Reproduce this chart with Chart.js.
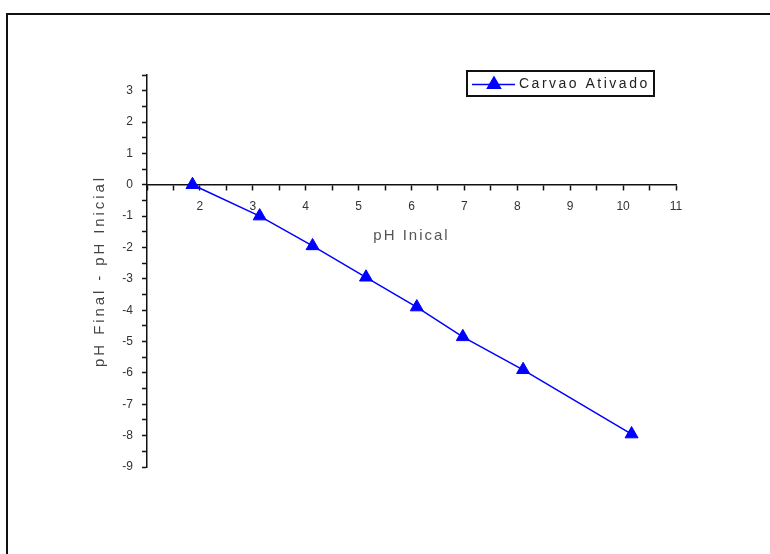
<!DOCTYPE html>
<html>
<head>
<meta charset="utf-8">
<script src="https://cdn.jsdelivr.net/npm/chart.js@4/dist/chart.umd.min.js"></script>
<style>
  html, body { margin: 0; padding: 0; background: #fff; }
  #wrap { position: relative; width: 770px; height: 554px; overflow: hidden; }
  #frame { position: absolute; left: 6px; top: 13px; width: 800px; height: 600px; border-top: 2px solid #111; border-left: 2px solid #111; }
  #chart { position: absolute; left: 0; top: 0; }
</style>
</head>
<body>
<div id="wrap">
  <div id="frame"></div>
  <canvas id="chart" width="770" height="554"></canvas>
</div>
<script>
// pH inicial vs (pH final - pH inicial)
const seriesLabel = 'Carvao Ativado'
const phInicial = [1.86, 3.13, 4.13, 5.14, 6.1, 6.97, 8.11, 10.16]
const phDiff = [0, -1, -1.95, -2.95, -3.9, -4.85, -5.9, -7.95]
const xTitle = 'pH Inical'
const yTitle = 'pH Final - pH Inicial'

let points = phInicial.map((x, i) => ({x: x, y: phDiff[i]}))

// titles in the reference are letter spaced, ticks are not
const titleSpacing = { x: '2px', y: '2.9px' }
const spacedTitles = {
  id: 'spacedTitles',
  beforeDraw(chart) {
    Object.values(chart.scales).forEach(s => {
      if (s._spaced) return
      const orig = s.drawTitle
      s.drawTitle = function () {
        this.ctx.save()
        this.ctx.letterSpacing = titleSpacing[this.id] || '0px'
        orig.call(this)
        this.ctx.restore()
      }
      s._spaced = true
    })
  }
}

// boxed legend with line + marker, like the Origin one
const boxLegend = {
  id: 'boxLegend',
  afterDraw(chart) {
    const ctx = chart.ctx
    const ds = chart.data.datasets[0]
    const a = chart.chartArea
    const left = a.right - 209, top = a.top - 4, w = 187, h = 25
    const midY = top + h / 2 + 1
    ctx.save()
    ctx.strokeStyle = '#111'
    ctx.lineWidth = 2
    ctx.strokeRect(left, top, w, h)
    ctx.strokeStyle = ds.borderColor
    ctx.lineWidth = 1.5
    ctx.beginPath()
    ctx.moveTo(left + 5, midY)
    ctx.lineTo(left + 48, midY)
    ctx.stroke()
    Chart.helpers.drawPoint(ctx, {pointStyle: 'triangle', radius: ds.pointRadius, borderWidth: 1}, left + 27, midY)
    ctx.fillStyle = ds.pointBackgroundColor
    ctx.fill()
    ctx.fillStyle = '#222'
    ctx.font = '14px "Liberation Sans", Arial, sans-serif'
    ctx.letterSpacing = '2.5px'
    ctx.textBaseline = 'middle'
    ctx.fillText(ds.label, left + 52, midY)
    ctx.restore()
  }
}

let ctx = document.getElementById('chart')
new Chart(ctx, {
  type: 'scatter',
  data: {
    datasets: [{
      label: seriesLabel,
      data: points,
      showLine: true,
      borderColor: '#0000ff',
      backgroundColor: '#0000ff',
      pointBackgroundColor: '#0000ff',
      pointBorderColor: '#0000ff',
      borderWidth: 1.5,
      pointStyle: 'triangle',
      pointRadius: 7.5,
      pointBorderWidth: 1
    }]
  },
  plugins: [spacedTitles, boxLegend],
  options: {
    responsive: false,
    animation: false,
    layout: { padding: { left: 91, right: 94, top: 75, bottom: 87 } },
    plugins: {
      legend: { display: false },
      tooltip: { enabled: false }
    },
    scales: {
      x: {
        type: 'linear',
        position: { y: 0 },
        min: 1,
        max: 11,
        afterFit: s => { s.height = 60 },
        ticks: {
          stepSize: 0.5,
          autoSkip: false,
          maxRotation: 0,
          padding: 10,
          color: '#333',
          font: { family: '"Liberation Sans", Arial, sans-serif', size: 12 },
          callback: v => (Number.isInteger(v) && v !== 1) ? v : ''
        },
        grid: { drawOnChartArea: false, tickLength: 5, tickColor: '#111', tickWidth: 1.5 },
        border: { color: '#111', width: 1.5 },
        title: {
          display: true,
          text: xTitle,
          color: '#555',
          padding: 0,
          font: { family: '"Liberation Sans", Arial, sans-serif', size: 15 }
        }
      },
      y: {
        type: 'linear',
        min: -9,
        max: 3.5,
        afterFit: s => { s.width = 56 },
        ticks: {
          stepSize: 0.5,
          autoSkip: false,
          padding: 9,
          color: '#333',
          font: { family: '"Liberation Sans", Arial, sans-serif', size: 12 },
          callback: v => Number.isInteger(v) ? v : ''
        },
        grid: { drawOnChartArea: false, tickLength: 5, tickColor: '#111', tickWidth: 1.5 },
        border: { color: '#111', width: 1.5 },
        title: {
          display: true,
          text: yTitle,
          color: '#444',
          padding: 0,
          font: { family: '"Liberation Sans", Arial, sans-serif', size: 15 }
        }
      }
    }
  }
})
</script>
</body>
</html>
